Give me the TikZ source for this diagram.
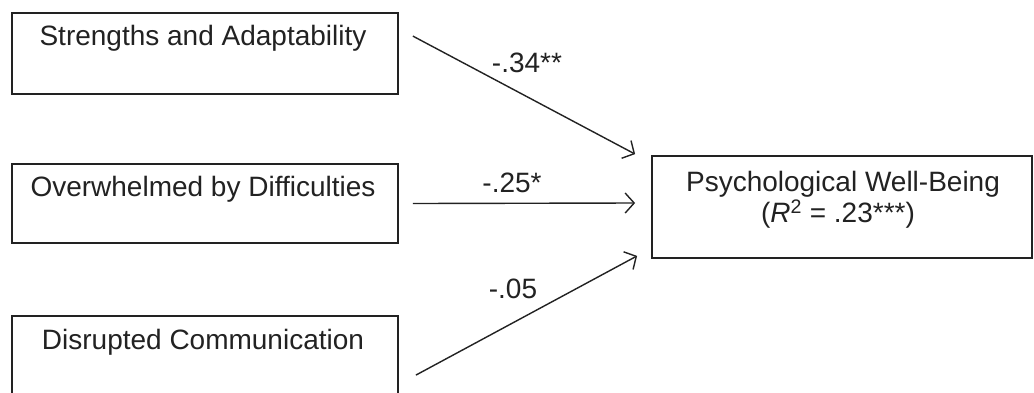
\documentclass[tikz,border=0pt]{standalone}
\usepackage{fontspec}
\setmainfont{Liberation Sans}
\usetikzlibrary{arrows.meta,calc}
\definecolor{ink}{HTML}{222222}
\tikzset{
  box/.style={draw=ink, line width=1.8pt, fill=white, inner sep=0pt},
  boxtext/.style={anchor=base, inner sep=0pt, text=ink, font=\fontsize{28}{31}\selectfont},
  coef/.style={anchor=base, inner sep=0pt, text=ink, font=\fontsize{28}{31}\selectfont},
  path arrow/.style={draw=ink, line width=1.4pt, -{Straight Barb[length=9pt,width=20pt,line width=1.4pt]}}
}
\begin{document}
\begin{tikzpicture}[x=1pt,y=-1pt]
\clip (0,0) rectangle (1034,392);
\fill[white] (0,0) rectangle (1034,392);
% boxes
\node[box, minimum width=386pt, minimum height=81pt] (b1) at (205,53.5) {};
\node[box, minimum width=386pt, minimum height=79pt] (b2) at (205,203.5) {};
\node[box, minimum width=386pt, minimum height=81pt] (b3) at (205,356.5) {};
\node[box, minimum width=380pt, minimum height=102pt] (pw) at (842,207) {};
% texts
\node[boxtext] (t1) at ($(b1.north)+(-2,33)$) {Strengths and Adaptability};
\node[boxtext] (t2) at ($(b2.north)+(-2,33)$) {Overwhelmed by Difficulties};
\node[boxtext] (t3) at ($(b3.north)+(-2,34)$) {Disrupted Communication};
\node[boxtext] (t4) at ($(pw.north)+(1,36)$) {Psychological Well-Being};
\node[boxtext] (t5) at ($(pw.north)+(-4,67)$) {(\textit{R}\textsuperscript{2} = .23***)};
% connector end points
\coordinate (s1) at ($(b1.north east)+(14,24)$);
\coordinate (e1) at ($(pw.north west)+(-16,-1)$);
\coordinate (s2) at ($(b2.east)+(14,0)$);
\coordinate (e2) at ($(pw.west)+(-16,-4)$);
\coordinate (s3) at ($(b3.north east)+(17,60)$);
\coordinate (e3) at ($(pw.south west)+(-14,-3)$);
% connectors
\draw[path arrow] (s1) -- (e1);
\draw[path arrow] (s2) -- (e2);
\draw[path arrow] (s3) -- (e3);
% coefficients
\node[coef] (c1) at (527,72) {-.34**};
\node[coef] (c2) at (512,192) {-.25*};
\node[coef] (c3) at (513,298) {-.05};
\end{tikzpicture}
\end{document}
